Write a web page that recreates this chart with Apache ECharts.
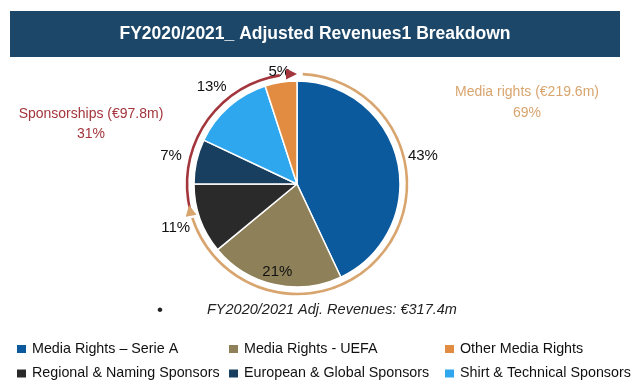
<!DOCTYPE html>
<html><head><meta charset="utf-8">
<script src="https://cdn.jsdelivr.net/npm/echarts@6/dist/echarts.min.js"></script>
<style>html,body{margin:0;padding:0;background:#fff}#c{width:640px;height:390px}</style>
</head><body><div id="c"></div>
<script>
// ---- data ----
const categories = ['Media Rights – Serie A','Media Rights - UEFA','Regional & Naming Sponsors','European & Global Sponsors','Shirt & Technical Sponsors','Other Media Rights'];
const shares = [43, 21, 11, 7, 13, 5];
const sliceColors = ['#0b5a9e','#8e8058','#2b2a2b','#183f5f','#2fa7ee','#e28c42'];
const labelRing = ['outer','inner','outer','outer','outer','near'];
const legendColumns = [
  ['Media Rights – Serie A','Regional & Naming Sponsors'],
  ['Media Rights - UEFA','European & Global Sponsors'],
  ['Other Media Rights','Shirt & Technical Sponsors']
];
const groupNames = ['Media rights (€219.6m)', 'Sponsorships (€97.8m)'];
const groupShares = ['69%', '31%'];
const groupColors = ['#d9a56f', '#a3363c'];
const titleText = 'FY2020/2021_ Adjusted Revenues1 Breakdown';
const footnote = 'FY2020/2021 Adj. Revenues: €317.4m';

// ---- layout ----
const FONT = '"Liberation Sans", Arial, sans-serif';
const C = [297, 184];
const R = 103;
const ARC_R = 110;
const mediaArc = [3, 252, 259];   // start, end, arrow tip (deg clockwise from top)
const sponsorArc = [256, 351, 360];

function pt(a, r) { const t = a * Math.PI / 180; return [C[0] + r * Math.sin(t), C[1] - r * Math.cos(t)]; }
function head(aTip, r, color) {
  const t = aTip * Math.PI / 180, tip = pt(aTip, r);
  const tg = [Math.cos(t), Math.sin(t)], n = [Math.sin(t), -Math.cos(t)];
  const L = 11, W = 5.5;
  const b = [tip[0] - L * tg[0], tip[1] - L * tg[1]];
  return { type: 'polygon', z: 20, shape: { points: [tip, [b[0] + W * n[0], b[1] + W * n[1]], [b[0] - W * n[0], b[1] - W * n[1]]] }, style: { fill: color } };
}
function arcSeries(a, color) {
  return { type: 'pie', center: C, radius: [ARC_R - 1.3, ARC_R + 1.3], startAngle: 90, silent: true, z: 3,
    label: { show: false }, labelLine: { show: false },
    data: [
      { value: a[0], itemStyle: { color: 'transparent', borderWidth: 0 } },
      { value: a[1] - a[0], itemStyle: { color: color, borderWidth: 0 } },
      { value: 360 - a[1], itemStyle: { color: 'transparent', borderWidth: 0 } }
    ] };
}
function labelSeries(ring, radius) {
  return { type: 'pie', center: C, radius: radius, startAngle: 90, silent: true, z: 6,
    itemStyle: { color: 'transparent', borderWidth: 0 },
    labelLine: { show: false },
    data: categories.map((n, i) => ({ name: n, value: shares[i],
      label: { show: labelRing[i] === ring, position: 'inside', formatter: shares[i] + '%', color: '#111', fontSize: 15, fontFamily: FONT } })) };
}

const chart = echarts.init(document.getElementById('c'), null, { renderer: 'canvas' });
chart.setOption({
  animation: false,
  backgroundColor: '#fff',
  legend: legendColumns.map((names, k) => ({
    data: names, orient: 'vertical', left: [15, 227, 443][k], top: 341, padding: 0,
    itemWidth: 11, itemHeight: 10, itemGap: 8.5, icon: 'rect', selectedMode: false,
    textStyle: { fontSize: 14.3, lineHeight: 16, color: '#111', fontFamily: FONT }
  })),
  series: [
    { type: 'pie', center: C, radius: R, startAngle: 90, silent: true, z: 4,
      label: { show: false }, labelLine: { show: false },
      itemStyle: { borderColor: '#fff', borderWidth: 1.5 },
      data: categories.map((n, i) => ({ name: n, value: shares[i], itemStyle: { color: sliceColors[i] } })) },
    arcSeries(mediaArc, groupColors[0]),
    arcSeries(sponsorArc, groupColors[1]),
    labelSeries('outer', [116, 136]),
    labelSeries('inner', [77, 97]),
    labelSeries('near', [100, 121])
  ],
  graphic: [
    { type: 'rect', shape: { x: 10, y: 11, width: 610, height: 46 }, style: { fill: '#1c4769' } },
    { type: 'text', x: 315, y: 34, style: { text: titleText, fill: '#fff', font: 'bold 17.5px ' + FONT, textAlign: 'center', textVerticalAlign: 'middle' } },
    { type: 'text', x: 527, y: 103, style: { text: groupNames[0] + '\n' + groupShares[0], fill: groupColors[0], font: '14px ' + FONT, lineHeight: 21, textAlign: 'center', textVerticalAlign: 'middle' } },
    { type: 'text', x: 91, y: 124, style: { text: groupNames[1] + '\n' + groupShares[1], fill: groupColors[1], font: '14px ' + FONT, lineHeight: 20, textAlign: 'center', textVerticalAlign: 'middle' } },
    { type: 'text', x: 160, y: 310, style: { text: '•', fill: '#222', font: '17px ' + FONT, textAlign: 'center', textVerticalAlign: 'middle' } },
    { type: 'text', x: 207, y: 310, style: { text: footnote, fill: '#222', font: 'italic 14.5px ' + FONT, textAlign: 'left', textVerticalAlign: 'middle' } },
    head(mediaArc[2], ARC_R, groupColors[0]),
    head(sponsorArc[2], ARC_R, groupColors[1])
  ]
});
</script></body></html>
